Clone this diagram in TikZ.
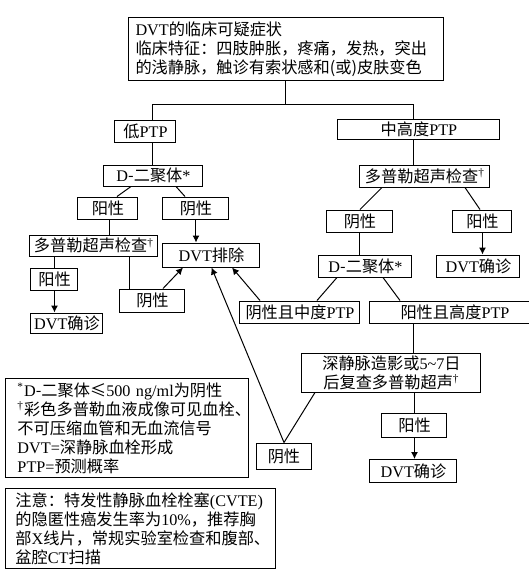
\documentclass[tikz,border=0pt]{standalone}
\usepackage{fontspec}
\setmainfont{Noto Sans CJK SC}
\newfontfamily\latfont{Liberation Serif}
\newcommand{\lat}[1]{{\latfont #1}}
\usetikzlibrary{arrows.meta}

\begin{document}
\begin{tikzpicture}[
    x=0.5pt, y=-0.5pt,
    font=\fontsize{8.1}{9.5}\selectfont,
    box/.style={draw, line width=0.5pt, inner sep=1pt, minimum height=11pt, align=center},
    note/.style={draw, line width=0.5pt, inner ysep=2pt, align=left, anchor=north west},
    link/.style={line width=0.5pt},
    arrow/.style={-{Latex[length=3.5pt,width=3.5pt]}, line width=0.5pt},
]
\useasboundingbox (0,0) rectangle (529,575);
% top of the chart
\node[note, inner xsep=3.5pt, text width=150.5pt, minimum height=28pt] (top) at (128,17) {\lat{DVT}的临床可疑症状\\临床特征：四肢肿胀，疼痛，发热，突出\\的浅静脉，触诊有索状感和(或)皮肤变色};
\node[box, minimum width=30.5pt] (lowptp) at (145.5,131) {低\lat{PTP}};
\node[box, minimum width=81pt, minimum height=10pt] (mhigh) at (419,129) {中高度\lat{PTP}};
% low PTP branch
\node[box, minimum width=49.5pt, minimum height=10.5pt] (dimerL) at (153.5,175.5) {\lat{D}-二聚体\lat{*}};
\node[box, minimum width=30pt] (posL1) at (108,208) {阳性};
\node[box, minimum width=33pt] (negL1) at (196,208) {阴性};
\node[box, minimum width=64pt, minimum height=10.5pt] (dopL) at (94,245.5) {多普勒超声检查\textsuperscript{\lat{†}}};
\node[box, minimum width=48.5pt, minimum height=12pt] (rule) at (211.5,255) {\lat{DVT}排除};
\node[box, minimum width=23.5pt] (posL2) at (54.5,279) {阳性};
\node[box, minimum width=36pt, minimum height=10pt] (dvtL) at (67,323) {\lat{DVT}确诊};
\node[box, minimum width=32.5pt, minimum height=11.5pt] (negL2) at (152.5,300.5) {阴性};
% moderate/high PTP branch
\node[box, minimum width=65pt] (dopR) at (425,176) {多普勒超声检查\textsuperscript{\lat{†}}};
\node[box, minimum width=33pt] (negR) at (360,221) {阴性};
\node[box, minimum width=29.5pt] (posR) at (482.5,221) {阳性};
\node[box, minimum width=46.5pt] (dimerR) at (365.5,266) {\lat{D}-二聚体\lat{*}};
\node[box, minimum width=41.5pt] (dvtR) at (478.5,266) {\lat{DVT}确诊};
\node[box, minimum width=60pt] (negMid) at (300,312) {阴性且中度\lat{PTP}};
\node[box, minimum width=85pt] (posHigh) at (455,312) {阳性且高度\lat{PTP}};
\node[box, minimum width=89.5pt, minimum height=19.5pt] (deep) at (391.5,372.5) {深静脉造影或\lat{5\textasciitilde7}日\\后复查多普勒超声\textsuperscript{\lat{†}}};
\node[box, minimum width=32.5pt, minimum height=12pt] (posR2) at (414.5,425) {阳性};
\node[box, minimum width=43.5pt, minimum height=11.5pt] (dvtR2) at (413.5,471) {\lat{DVT}确诊};
\node[box, minimum width=27.5pt, minimum height=13pt] (negB) at (284,456) {阴性};
% footnotes
\node[note, inner xsep=6pt, text width=109.5pt, minimum height=49.5pt] (keys) at (5,378) {\textsuperscript{\lat{*}}\lat{D}-二聚体≤\lat{500 ng/ml}为阴性\\\textsuperscript{\lat{†}}彩色多普勒血液成像可见血栓、\\不可压缩血管和无血流信号\\\lat{DVT=}深静脉血栓形成\\\lat{PTP=}预测概率};
\node[note, inner xsep=5pt, text width=125pt, minimum height=39.5pt] (remark) at (5,488) {注意：特发性静脉血栓栓塞\lat{(CVTE)}\\的隐匿性癌发生率为\lat{10\%}，推荐胸\\部\lat{X}线片，常规实验室检查和腹部、\\盆腔\lat{CT}扫描};

% connectors
\draw[link] (top.south) -- ++(0,24) coordinate (jn);
\draw[link] (jn) -| ([xshift=3.75pt]lowptp.north);
\draw[link] (jn) -| ([xshift=-2.5pt]mhigh.north);
\draw[link] ([xshift=3.75pt]lowptp.south) -- ([xshift=3.75pt]lowptp.south |- dimerL.north);
\draw[link] ([xshift=-11.25pt]dimerL.south) -- ([xshift=4.5pt]posL1.north);
\draw[link] ([xshift=11.25pt]dimerL.south) -- ([xshift=-5.5pt]negL1.north);
\draw[arrow] (negL1.south) -- (negL1.south |- rule.north);
\draw[link] ([xshift=1pt]posL1.south) -- ([xshift=1pt]posL1.south |- dopL.north);
\draw[link] (posL2.north |- dopL.south) -- (posL2.north);
\draw[link] ([xshift=-11.25pt]negL2.north |- dopL.south) -- ([xshift=-11.25pt]negL2.north);
\draw[arrow] (posL2.south) -- (posL2.south |- dvtL.north);
\draw[arrow] ([xshift=5.25pt]negL2.north) -- ([xshift=-14.25pt]rule.south);
\draw[arrow] (negB.north) -- (rule.south);
\draw[arrow] ([xshift=-20pt]negMid.north) -- ([xshift=10.25pt]rule.south);
\draw[link] ([xshift=-2.5pt]mhigh.south) -- ([xshift=-2.5pt]mhigh.south |- dopR.north);
\draw[link] ([xshift=-21.5pt]dopR.south) -- (negR.north);
\draw[link] ([xshift=20pt]dopR.south) -- ([xshift=-1.25pt]posR.north);
\draw[link] (negR.south) -- (negR.south |- dimerR.north);
\draw[arrow] (posR.south) -- (posR.south |- dvtR.north);
\draw[link] ([xshift=-14.25pt]dimerR.south) -- ([xshift=8.5pt]negMid.north);
\draw[link] ([xshift=8.75pt]dimerR.south) -- ([xshift=-27.5pt]posHigh.north);
\draw[link] ([xshift=-20.5pt]posHigh.south) -- ([xshift=-20.5pt]posHigh.south |- deep.north);
\draw[link] (posR2.north |- deep.south) -- (posR2.north);
\draw[arrow] (posR2.south) -- (posR2.south |- dvtR2.north);
\draw[link] ([xshift=-38.25pt]deep.south) -- (negB.north);
\end{tikzpicture}
\end{document}
